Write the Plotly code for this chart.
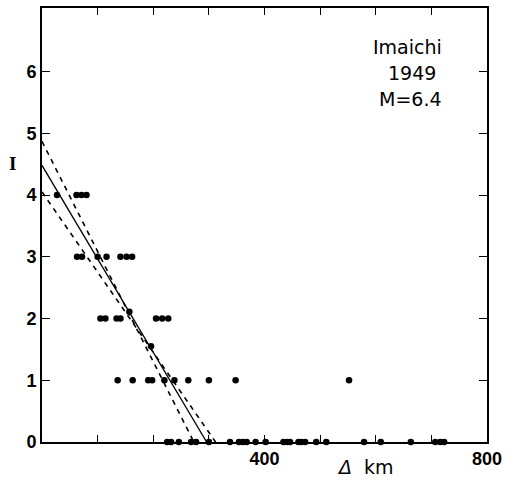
import plotly.graph_objects as go

# Observed intensities (I) vs epicentral distance (km)
dist_I4 = [27, 62, 71, 80]
dist_I3 = [63, 72, 100, 116, 141, 152, 162]
dist_I2 = [105, 114, 134, 141, 205, 216, 227]
dist_I1 = [136, 163, 191, 198, 220, 238, 263, 300, 348, 552]
dist_I0 = [225, 232, 246, 268, 277, 300, 338, 354, 361, 368, 384, 402, 434, 441,
           446, 461, 466, 473, 493, 511, 579, 609, 663, 707, 716, 723]

# mean points lying on the regression line
mean_dist = [157, 196]
mean_I = [2.11, 1.55]

# regression line and limits (end points)
fit_x = [0, 296]
fit_y = [4.48, 0]
limA_x = [0, 273]
limA_y = [4.87, 0]
limB_x = [0, 312]
limB_y = [4.05, 0]

x_tickvals = [0, 100, 200, 300, 400, 500, 600, 700, 800]
x_ticktext = ["", "", "", "", "400", "", "", "", "800"]
y_tickvals = [0, 1, 2, 3, 4, 5, 6]

fig = go.Figure()

xs, ys = [], []
for lvl, arr in [(4, dist_I4), (3, dist_I3), (2, dist_I2), (1, dist_I1), (0, dist_I0)]:
    xs += arr
    ys += [lvl] * len(arr)
xs += mean_dist
ys += mean_I

fig.add_trace(go.Scatter(x=fit_x, y=fit_y, mode="lines",
                         line=dict(color="black", width=1.3), cliponaxis=False))
fig.add_trace(go.Scatter(x=limA_x, y=limA_y, mode="lines",
                         line=dict(color="black", width=1.6, dash="5px,5px"), cliponaxis=False))
fig.add_trace(go.Scatter(x=limB_x, y=limB_y, mode="lines",
                         line=dict(color="black", width=1.6, dash="5px,5px"), cliponaxis=False))
fig.add_trace(go.Scatter(x=xs, y=ys, mode="markers",
                         marker=dict(color="black", size=6.5), cliponaxis=False))

tick_font = dict(family="Liberation Sans", size=18, color="black", weight="bold")
fig.update_layout(
    width=508, height=483,
    margin=dict(l=42, r=18, t=6, b=41),
    paper_bgcolor="white", plot_bgcolor="white",
    showlegend=False,
    xaxis=dict(range=[0, 800], tickvals=x_tickvals, ticktext=x_ticktext,
               ticks="inside", ticklen=7, tickwidth=1.3, tickcolor="black",
               showline=True, linecolor="black", linewidth=1.5, mirror="ticks",
               showgrid=False, zeroline=False, tickfont=tick_font),
    yaxis=dict(range=[0, 7.03], tickvals=y_tickvals,
               ticks="inside", ticklen=8, tickwidth=1.3, tickcolor="black",
               showline=True, linecolor="black", linewidth=1.8, mirror="ticks",
               showgrid=False, zeroline=False, tickfont=tick_font),
)

txt_font = dict(family="DejaVu Sans", size=19, color="black")
fig.add_annotation(x=657, y=6.4, xref="x", yref="y", text="Imaichi", showarrow=False,
                   font=txt_font, xanchor="center", yanchor="middle")
fig.add_annotation(x=665, y=5.97, xref="x", yref="y", text="1949", showarrow=False,
                   font=txt_font, xanchor="center", yanchor="middle")
fig.add_annotation(x=663, y=5.55, xref="x", yref="y", text="M=6.4", showarrow=False,
                   font=txt_font, xanchor="center", yanchor="middle")

fig.add_annotation(x=-0.067, y=0.642, xref="paper", yref="paper", text="I", showarrow=False,
                   font=dict(family="Liberation Serif", size=19, color="black", weight="bold"),
                   xanchor="center", yanchor="middle")
fig.add_annotation(x=0.728, y=-0.057, xref="paper", yref="paper",
                   text="<i>Δ</i>  km", showarrow=False,
                   font=dict(family="DejaVu Sans", size=19, color="black"),
                   xanchor="center", yanchor="middle")

fig.write_html("out.html")
